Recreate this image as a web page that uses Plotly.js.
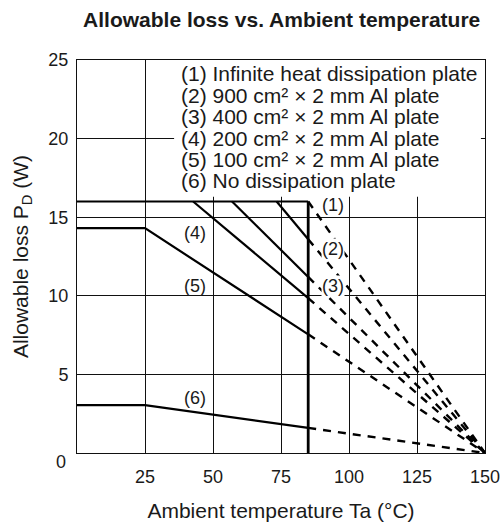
<!DOCTYPE html>
<html>
<head>
<meta charset="utf-8">
<script src="https://cdn.plot.ly/plotly-3.0.1.min.js"></script>
<style>html,body{margin:0;padding:0;background:#fff;}#chart{width:503px;height:523px;}</style>
</head>
<body>
<div id="chart"></div>
<script>
// Data
var curveNames = ["(1)", "(2)", "(3)", "(4)", "(5)", "(6)"];
var legendLines = [
  "(1) Infinite heat dissipation plate",
  "(2) 900 cm² × 2 mm Al plate",
  "(3) 400 cm² × 2 mm Al plate",
  "(4) 200 cm² × 2 mm Al plate",
  "(5) 100 cm² × 2 mm Al plate",
  "(6) No dissipation plate"
];
// solid segments (Ta, PD)
var solidX = [
  [0, 85],
  [73.4, 85],
  [57, 85],
  [42.7, 85],
  [0, 25, 85],
  [0, 25, 85]
];
var solidY = [
  [16, 16],
  [16, 13.6],
  [16, 11.2],
  [16, 9.85],
  [14.3, 14.3, 7.55],
  [3.05, 3.05, 1.6]
];
// dashed extrapolation to Tj max
var dashX = [85, 150];
var dashY0 = [16, 13.6, 11.2, 9.85, 7.55, 1.6];
// operating limit line
var limitX = [85, 85];
var limitY = [0, 16];
var xTicks = [25, 50, 75, 100, 125, 150];
var yTicks = [5, 10, 15, 20, 25];

var traces = [];
for (var i = 0; i < solidX.length; i++) {
  traces.push({x: solidX[i], y: solidY[i], mode: 'lines', type: 'scatter',
    line: {color: '#000', width: 2.2}, hoverinfo: 'skip', showlegend: false});
  traces.push({x: dashX, y: [dashY0[i], 0], mode: 'lines', type: 'scatter',
    line: {color: '#000', width: 2.4, dash: '8px,7px'}, hoverinfo: 'skip', showlegend: false});
}
traces.push({x: limitX, y: limitY, mode: 'lines', type: 'scatter',
  line: {color: '#000', width: 2.8}, hoverinfo: 'skip', showlegend: false});

var txtColor = '#1a1a1a';
var fam = 'Liberation Sans, Arial, sans-serif';
var annotations = [];
var legY = [24.11, 22.75, 21.39, 20.03, 18.67, 17.31];
for (var j = 0; j < legendLines.length; j++) {
  annotations.push({x: 37.6, y: legY[j], xref: 'x', yref: 'y', xanchor: 'left', yanchor: 'middle',
    text: legendLines[j], showarrow: false, font: {family: fam, size: 21, color: txtColor}});
}
var labX = [94, 94, 94, 43.5, 43.5, 43.5];
var labY = [15.75, 13.0, 10.65, 14.0, 10.6, 3.5];
for (var k = 0; k < curveNames.length; k++) {
  annotations.push({x: labX[k], y: labY[k], xref: 'x', yref: 'y', xanchor: 'center', yanchor: 'middle',
    text: curveNames[k], showarrow: false, bgcolor: k < 3 ? '#fff' : 'rgba(0,0,0,0)', borderpad: 0,
    font: {family: fam, size: 18, color: txtColor}});
}
annotations.push({x: -0.039, y: -0.023, xref: 'paper', yref: 'paper', xanchor: 'center', yanchor: 'middle',
  text: '0', showarrow: false, font: {family: fam, size: 18, color: txtColor}});

var layout = {
  width: 503, height: 523,
  margin: {l: 77, r: 18, t: 60, b: 70},
  paper_bgcolor: '#fff', plot_bgcolor: '#fff',
  title: {text: '<b>Allowable loss vs. Ambient temperature</b>', x: 0.56, xanchor: 'center', y: 0.962, yanchor: 'middle',
    font: {family: fam, size: 21, color: txtColor}},
  xaxis: {range: [0, 150], tickvals: xTicks, ticktext: xTicks.map(String), ticks: '',
    showgrid: true, gridcolor: '#111', gridwidth: 1, zeroline: false,
    showline: true, linecolor: '#111', linewidth: 1, mirror: true, ticklabelstandoff: 7,
    tickfont: {family: fam, size: 18, color: txtColor},
    title: {text: 'Ambient temperature Ta (°C)', standoff: 17, font: {family: fam, size: 21, color: txtColor}}},
  yaxis: {range: [0, 25], tickvals: yTicks, ticktext: yTicks.map(String), ticks: '',
    showgrid: true, gridcolor: '#111', gridwidth: 1, zeroline: false,
    showline: true, linecolor: '#111', linewidth: 1, mirror: true, ticklabelstandoff: 4,
    tickfont: {family: fam, size: 18, color: txtColor},
    title: {text: 'Allowable loss P<sub>D</sub> (W)', standoff: 14, font: {family: fam, size: 21, color: txtColor}}},
  shapes: [{type: 'rect', xref: 'x', yref: 'y', x0: 35.7, x1: 148.5, y0: 16.3, y1: 25,
    fillcolor: '#fff', line: {width: 0}, layer: 'between'}],
  annotations: annotations
};
Plotly.newPlot('chart', traces, layout, {displayModeBar: false, staticPlot: true});
</script>
</body>
</html>
